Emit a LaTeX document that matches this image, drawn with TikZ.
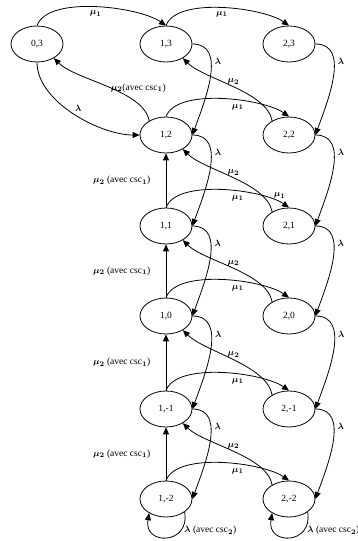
\documentclass[tikz,border=0pt]{standalone}
\usepackage{amsmath, amssymb}
\usepackage{fontspec}
\setmainfont{Liberation Serif}
\usepackage{tikz}
\usetikzlibrary{automata,positioning,shapes.geometric,arrows.meta}

\begin{document}
\begin{tikzpicture}[
    x=1pt, y=1pt,
    >={Triangle[length=7pt,width=6pt]},
    line width=0.8pt,
    font=\fontsize{9.5}{11}\selectfont\boldmath,
    every state/.style={ellipse, draw, minimum width=52pt, minimum height=36pt, inner sep=0pt},
    mu1/.style={out=70, in=145, looseness=0.65},
    mu2/.style={out=100, in=-45, looseness=0.7},
    lam/.style={out=0, in=70}
]
    \useasboundingbox (0,0) rectangle (358,541);

    % States: columns 0,1,2 and levels 3 .. -2
    \node[state] (q03)  at (37,497)  {0,3};
    \node[state] (q13)  at (166,497) {1,3};
    \node[state] (q23)  at (289,497) {2,3};
    \node[state] (q12)  at (166,406) {1,2};
    \node[state] (q22)  at (289,406) {2,2};
    \node[state] (q11)  at (166,315) {1,1};
    \node[state] (q21)  at (289,315) {2,1};
    \node[state] (q10)  at (166,225) {1,0};
    \node[state] (q20)  at (289,225) {2,0};
    \node[state] (q1m1) at (166,132) {1,-1};
    \node[state] (q2m1) at (289,132) {2,-1};
    \node[state] (q1m2) at (166,42)  {1,-2};
    \node[state] (q2m2) at (289,42)  {2,-2};

    \path[->]
        % level 3
        (q03.north) edge[mu1] node[below] {$\mu_1$} (q13.north)
        (q13.north) edge[mu1] node[below] {$\mu_1$} (q23.north)
        (q13.east) edge[lam] node[pos=0.35, right] {$\lambda$} (q12.east)
        (q23.east) edge[lam] node[pos=0.35, right] {$\lambda$} (q22.east)
        (q12.140) edge[mu2] node[pos=0.3, above=2pt, xshift=8pt] {$\mu_2$(avec csc$_1$)} (q03.-40)
        (q03.south) edge[out=-90, in=180, looseness=0.8] node[pos=0.5, above right=-3pt] {$\lambda$} (q12.west)
        (q22.140) edge[mu2] node[pos=0.5, above=-2pt] {$\mu_2$} (q13.-40)
        (q12.north) edge[mu1] node[pos=0.6, below] {$\mu_1$} (q22.north)
        % level 2
        (q12.east) edge[lam] node[pos=0.35, right] {$\lambda$} (q11.east)
        (q22.east) edge[lam] node[pos=0.35, right] {$\lambda$} (q21.east)
        (q11) edge node[left=12pt] {$\mu_2$ (avec csc$_1$)} (q12)
        (q21.140) edge[mu2] node[pos=0.5, above=-2pt] {$\mu_2$} (q12.-40)
        (q11.north) edge[mu1] node[pos=0.6, below] {$\mu_1$} node[pos=0.9, above] {$\mu_1$} (q21.north)
        % level 1
        (q11.east) edge[lam] node[pos=0.35, right] {$\lambda$} (q10.east)
        (q21.east) edge[lam] node[pos=0.35, right] {$\lambda$} (q20.east)
        (q10) edge node[left=12pt] {$\mu_2$ (avec csc$_1$)} (q11)
        (q20.140) edge[mu2] node[pos=0.5, above=-2pt] {$\mu_2$} (q11.-40)
        (q10.north) edge[mu1] node[pos=0.6, below] {$\mu_1$} (q20.north)
        % level 0
        (q10.east) edge[lam] node[pos=0.35, right] {$\lambda$} (q1m1.east)
        (q20.east) edge[lam] node[pos=0.35, right] {$\lambda$} (q2m1.east)
        (q1m1) edge node[left=12pt] {$\mu_2$ (avec csc$_1$)} (q10)
        (q2m1.140) edge[mu2] node[pos=0.5, above=-2pt] {$\mu_2$} (q10.-40)
        (q1m1.north) edge[mu1] node[pos=0.6, below] {$\mu_1$} (q2m1.north)
        % level -1
        (q1m1.east) edge[lam] node[pos=0.35, right] {$\lambda$} (q1m2.east)
        (q2m1.east) edge[lam] node[pos=0.35, right] {$\lambda$} (q2m2.east)
        (q1m2) edge node[left=12pt] {$\mu_2$ (avec csc$_1$)} (q1m1)
        (q2m2.140) edge[mu2] node[pos=0.5, above=-2pt] {$\mu_2$} (q1m1.-40)
        (q1m2.north) edge[mu1] node[pos=0.6, below] {$\mu_1$} (q2m2.north)
        % level -2: loops
        (q1m2.-35) edge[out=-80, in=-100, looseness=2.4] node[pos=0.25, right] {$\lambda$ (avec csc$_2$)} (q1m2.-140)
        (q2m2.-35) edge[out=-80, in=-100, looseness=2.4] node[pos=0.25, right] {$\lambda$ (avec csc$_2$)} (q2m2.-140);
\end{tikzpicture}
\end{document}
